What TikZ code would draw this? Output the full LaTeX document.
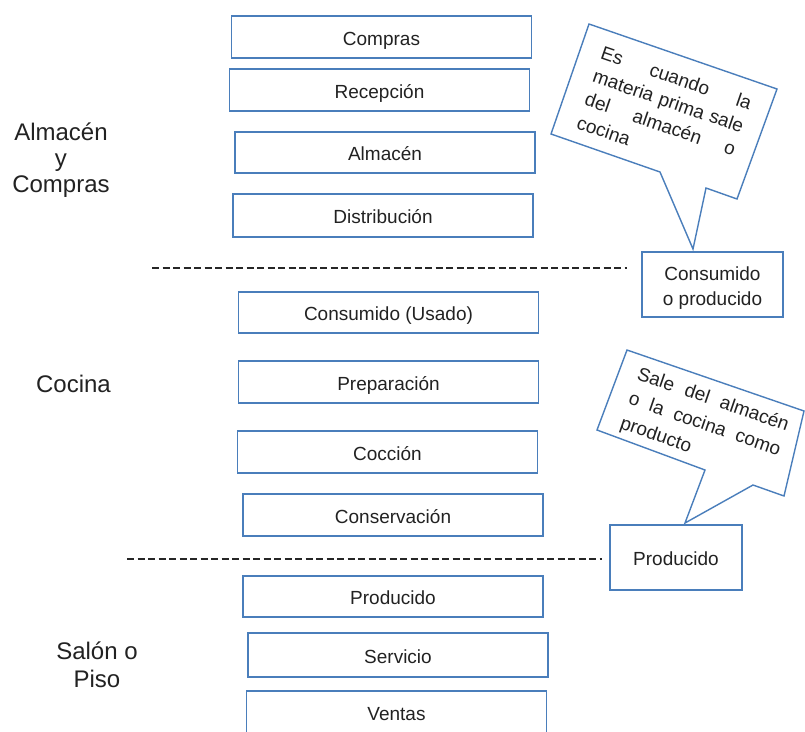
\documentclass[tikz,border=0pt]{standalone}
\usepackage{fontspec}
\setmainfont{Liberation Sans}
\definecolor{boxblue}{HTML}{4A7EBB}
\definecolor{txtgray}{HTML}{222222}
\begin{document}
\begin{tikzpicture}[x=1pt,y=-1pt,
  boxframe/.style={draw=boxblue, line width=1.4pt, fill=white, inner sep=0pt,
    minimum width=300pt, minimum height=42pt, text=txtgray,
    font=\fontsize{19}{25}\selectfont},
  procbox/.style={boxframe, text height=16pt, text depth=0pt},
  sidelabel/.style={align=center, inner sep=0pt, text=txtgray},
  calloutshape/.style={draw=boxblue, line width=1.4pt, fill=white, line join=miter},
  callouttext/.style={rotate=-19, align=left, inner sep=0pt, text=txtgray},
  dashline/.style={draw=black!85, line width=1.1pt, dash pattern=on 7pt off 3.5pt}]
\clip (0,0) rectangle (805,731);
\fill[white] (0,0) rectangle (805,731);

% left section labels
\node[sidelabel, font=\fontsize{24}{26}\selectfont] (lab1) at (61,160) {Almacén\\y\\Compras};
\node[sidelabel, font=\fontsize{24}{26}\selectfont] (lab2) at (73.5,384) {Cocina};
\node[sidelabel, font=\fontsize{24}{28}\selectfont] (lab3) at (97,665) {Salón o\\Piso};

% process boxes
\node[procbox] (compras) at (381.5,37) {Compras};
\node[procbox] (recep) at (379.5,90) {Recepción};
\node[procbox, minimum height=41pt] (almacen) at (385,152.5) {Almacén};
\node[procbox, minimum height=43pt] (distrib) at (383,215.5) {Distribución};
\node[procbox, minimum height=41pt] (consum) at (388.5,312.5) {Consumido (Usado)};
\node[procbox] (prep) at (388.5,382) {Preparación};
\node[procbox] (cocc) at (387.5,452) {Cocción};
\node[procbox] (conserv) at (393,515) {Conservación};
\node[procbox, minimum height=41pt] (produc) at (393,596.5) {Producido};
\node[procbox, minimum height=44pt] (serv) at (398,655) {Servicio};
\node[procbox] (ventas) at (396.5,712) {Ventas};

% right boxes
\node[boxframe, minimum width=141pt, minimum height=65pt] (cop) at (712.5,284.5)
  {\raisebox{-3pt}[\height][\depth]{\begin{tabular}{@{}c@{}}Consumido\\o producido\end{tabular}}};
\node[procbox, minimum width=132pt, minimum height=65pt] (prod2) at (676,557.5) {Producido};

% dashed separators
\coordinate (d1) at (152,268);
\draw[dashline, shorten >=14pt] (d1) -- (d1 -| cop.west);
\coordinate (d2) at (127,559);
\draw[dashline, shorten >=7pt] (d2) -- (d2 -| prod2.west);

% callout 1
\draw[calloutshape] (589,24) -- (777,89) -- (737,199) -- (706,188) -- (693,249)
  -- (660,172) -- (551,134) -- cycle;
\node[callouttext, font=\fontsize{19}{24.5}\selectfont] (c1) at (664.5,112.6)
  {\makebox[158pt][s]{Es cuando la}\\
   \makebox[158pt][s]{materia prima sale}\\
   \makebox[158pt][s]{del almacén o}\\
   \makebox[158pt][l]{cocina}};

% callout 2
\draw[calloutshape] (627,350) -- (804,411) -- (784,496) -- (753,485) -- (685,523)
  -- (705,470) -- (597,430) -- cycle;
\node[callouttext, font=\fontsize{19}{26}\selectfont] (c2) at (704.5,425)
  {\makebox[159pt][s]{Sale del almacén}\\
   \makebox[159pt][s]{o la cocina como}\\
   \makebox[159pt][l]{producto}};
\end{tikzpicture}
\end{document}
